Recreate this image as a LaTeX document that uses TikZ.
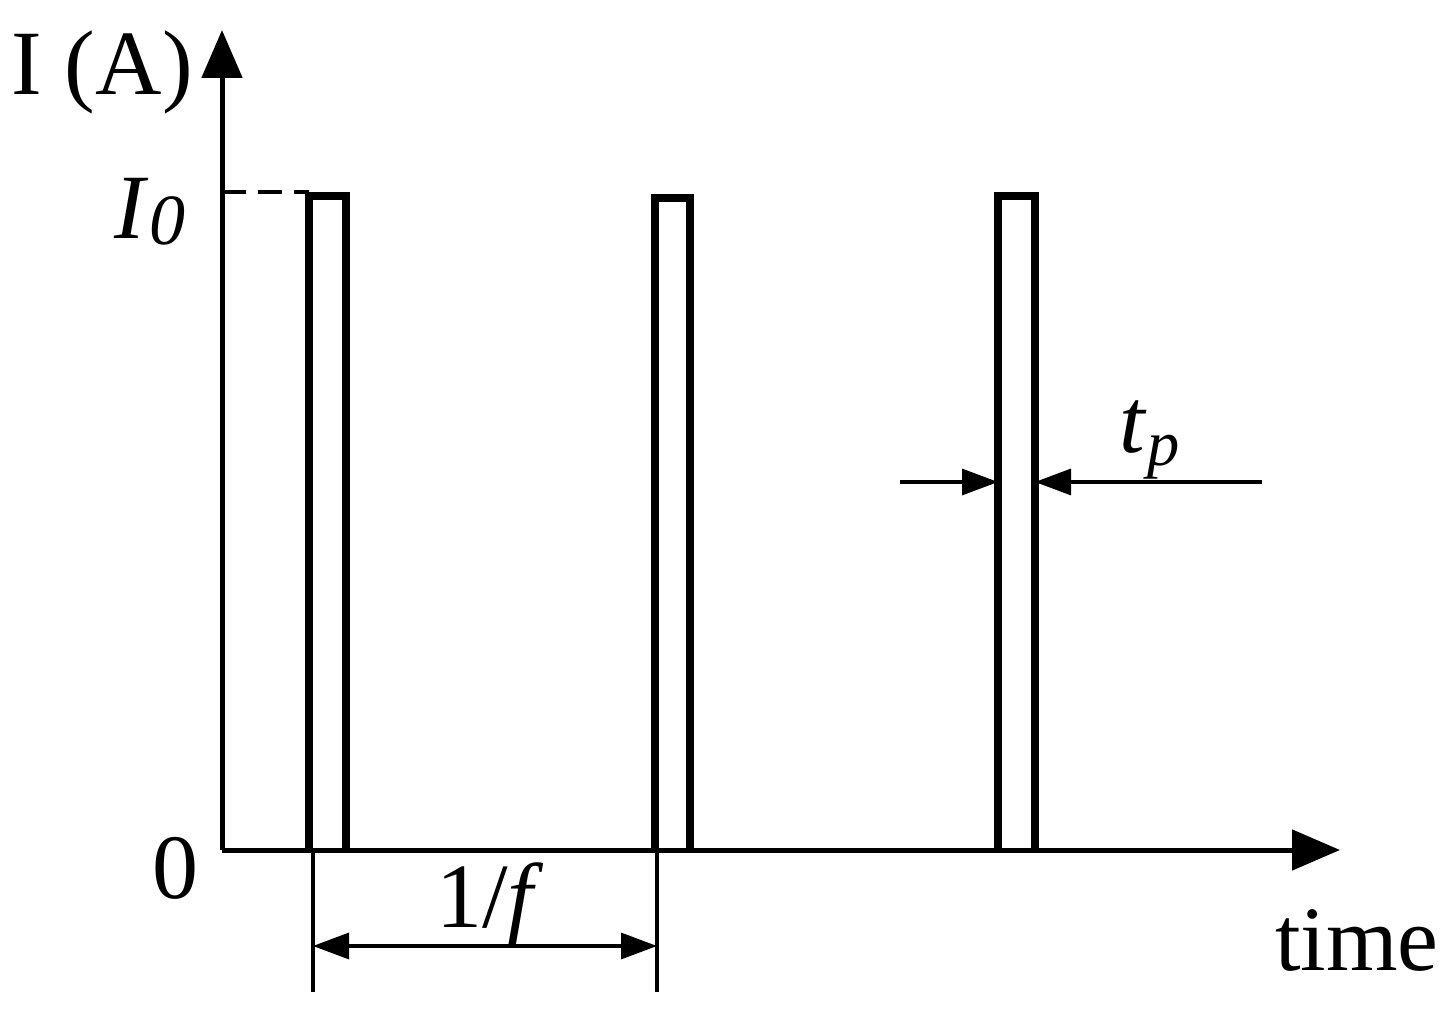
\documentclass[tikz,border=0pt]{standalone}
\usepackage{fontspec}
\setmainfont{Liberation Serif}
\usetikzlibrary{arrows.meta}
\begin{document}
\begin{tikzpicture}[x=0.5pt,y=-0.5pt,
  axis/.style={line width=2.5pt,-{Triangle[length=24pt,width=20pt]}},
  pulse/.style={line width=4pt,line join=miter},
  dim/.style={line width=1.6pt},
  dimarrow/.style={line width=1.6pt,-{Triangle[length=18pt,width=13pt]}},
  lbl/.style={inner sep=0pt,font=\fontsize{46}{50}\selectfont}]
\useasboundingbox (0,0) rectangle (1452,1015);
\coordinate (O) at (222,850);
\coordinate (Ytip) at (222,30);
\coordinate (Xtip) at (1340,850);
\draw[axis] (O) -- (Ytip);
\draw[axis] (O) -- (Xtip);
\draw[pulse] (309,850) -- (309,196) -- (346,196) -- (346,850);
\draw[pulse] (655,850) -- (655,198) -- (690,198) -- (690,850);
\draw[pulse] (998,850) -- (998,196) -- (1035,196) -- (1035,850);
\coordinate (d0) at (222,192); \coordinate (d1) at (309,192);
\draw[line width=2pt,dash pattern=on 12pt off 6pt] (d0) -- (d1);
\coordinate (a0) at (313,850); \coordinate (a1) at (313,992);
\coordinate (b0) at (657,850); \coordinate (b1) at (657,992);
\draw[dim] (a0) -- (a1); \draw[dim] (b0) -- (b1);
\coordinate (m1) at (313,946); \coordinate (m2) at (657,946);
\draw[dim,{Triangle[length=18pt,width=13pt]}-{Triangle[length=18pt,width=13pt]}] (m1) -- (m2);
\coordinate (t0) at (900,482); \coordinate (t1) at (998,482);
\coordinate (t2) at (1262,482); \coordinate (t3) at (1035,482);
\draw[dimarrow] (t0) -- (t1);
\draw[dimarrow] (t2) -- (t3);
\node[lbl] (IA) at (102,72) {I (A)};
\node[lbl] (I0) at (150,212) {\textit{I}\raisebox{-3pt}{\fontsize{36}{40}\selectfont\textit{0}}};
\node[lbl] (zero) at (175,868) {0};
\node[lbl] (f) at (490,905) {1/\textit{f}};
\node[lbl] (tp) at (1150,440) {\textit{t}\textsubscript{\textit{p}}};
\node[lbl] (time) at (1357,940) {time};
\end{tikzpicture}
\end{document}
